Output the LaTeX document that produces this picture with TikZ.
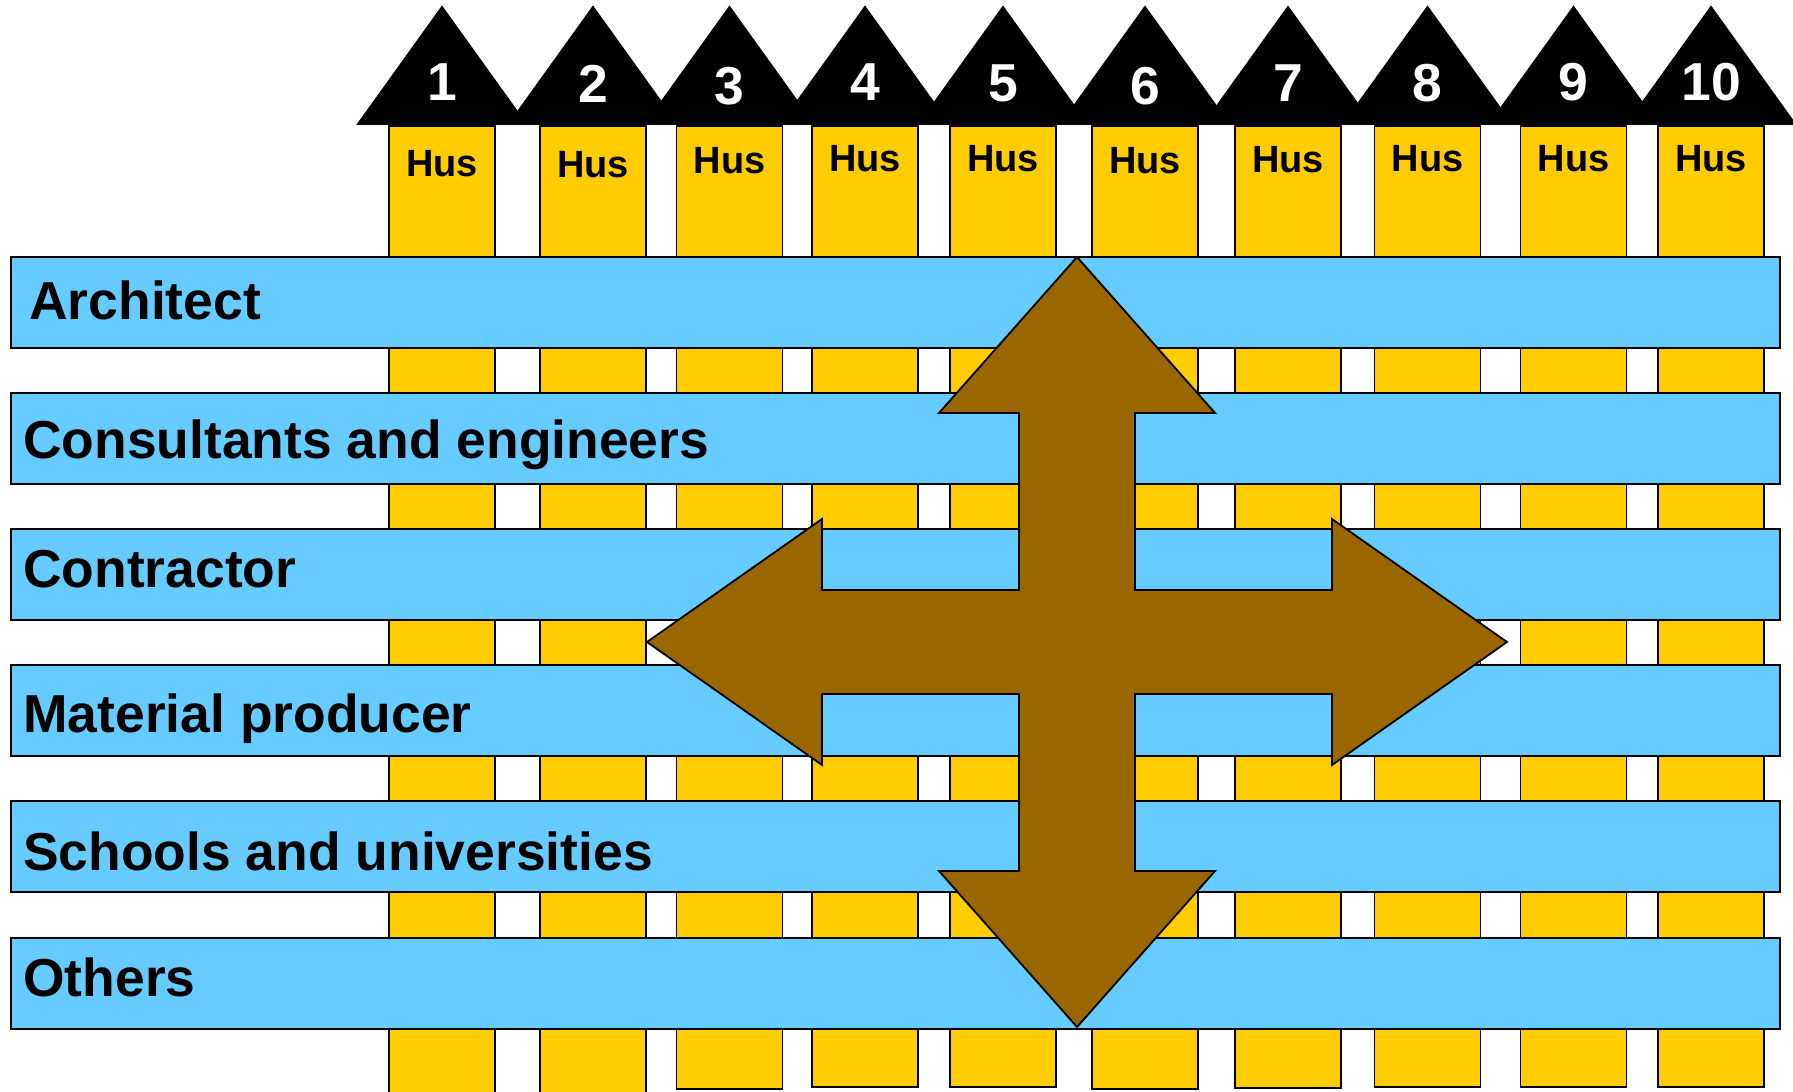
\documentclass[tikz,border=0pt]{standalone}
\usepackage{fontspec}
\setmainfont{Liberation Sans}
\definecolor{husyellow}{HTML}{FFCC00}
\definecolor{actorblue}{HTML}{66CCFF}
\definecolor{crossbrown}{HTML}{996600}
\newcommand\housenumfont{\fontsize{38}{38}\bfseries\selectfont}
\newcommand\husfont{\fontsize{27}{27}\bfseries\selectfont}
\newcommand\actorfont{\fontsize{38}{38}\bfseries\selectfont}
\tikzset{
  outline/.style={draw=black,line width=1.3pt},
  roof/.style={outline,fill=black,line join=miter},
  husbody/.style={outline,fill=husyellow},
  actorbar/.style={outline,fill=actorblue},
  crossarrow/.style={outline,fill=crossbrown,line join=miter},
  numlabel/.style={text=white,inner sep=0pt,font=\housenumfont},
  huslabel/.style={inner sep=0pt,font=\husfont},
  actorlabel/.style={anchor=base west,inner sep=0pt,font=\actorfont}
}
\begin{document}
\begin{tikzpicture}[x=0.025cm,y=-0.025cm]
    \useasboundingbox (0,0) rectangle (1793,1091);
    %\draw[very thin,color=gray] (0,0) grid[step=100] (1793,1091);
    \foreach \i/\cx/\ny/\hy/\cb in {1/442/82/163.5/1095, 2/593/83.5/164.7/1095,
        3/729.5/86/161/1089, 4/865/82/159/1087, 5/1003/83/159/1087,
        6/1145/86/161/1089, 7/1288/83/160/1088, 8/1427.5/83/159/1087,
        9/1573.5/82/159/1087, 10/1711/82/159/1087} {
      \draw[roof] (\cx-84,124) -- (\cx,7) -- (\cx+84,124) -- cycle;
      \draw[husbody] (\cx-53,126) rectangle (\cx+53,\cb);
      \node[numlabel] (num\i) at (\cx,\ny) {\i};
      \node[huslabel] (hus\i) at (\cx,\hy) {Hus};
    }
    \foreach \k/\ty/\lx/\by/\txt in {arch/257/29/319/Architect,
        cons/393/23/458/Consultants and engineers,
        contr/529/23/587/Contractor,
        mat/665/23/732/Material producer,
        school/801/23/870/Schools and universities,
        other/938/23/996/Others} {
      \draw[actorbar] (11,\ty) rectangle (1780,\ty+91);
      \node[actorlabel] (\k) at (\lx,\by) {\txt};
    }
    \draw[crossarrow,shift={(1077,642)}] (0,-385) -- (138,-229) -- (58,-229)
      -- (58,-52) -- (255,-52) -- (255,-123) -- (430,0) -- (255,123)
      -- (255,52) -- (58,52) -- (58,229) -- (138,229) -- (0,385)
      -- (-138,229) -- (-58,229) -- (-58,52) -- (-255,52) -- (-255,123)
      -- (-430,0) -- (-255,-123) -- (-255,-52) -- (-58,-52) -- (-58,-229)
      -- (-138,-229) -- cycle;
\end{tikzpicture}
\end{document}
